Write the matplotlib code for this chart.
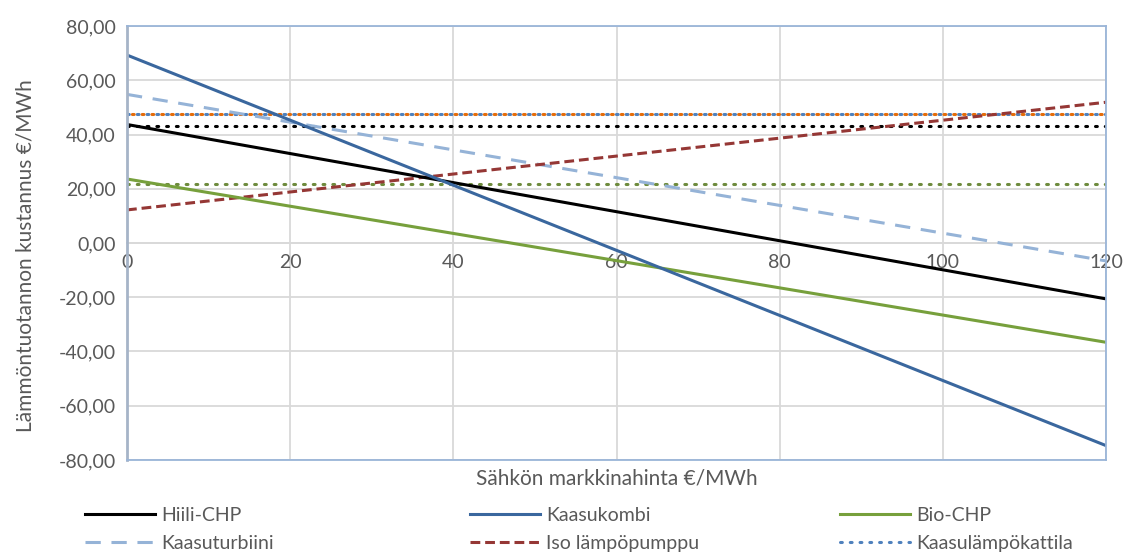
import matplotlib
matplotlib.use("Agg")
import matplotlib.pyplot as plt
import numpy as np

plt.rcParams['font.family'] = ['Lato', 'DejaVu Sans']

x = [0, 120]
hiili = [43.7, -20.6]
kaasukombi = [69.3, -74.7]
bio = [23.6, -36.6]
kaasuturbiini = [54.8, -6.6]
iso_lp = [12.2, 51.9]
kaasulampokattila = [47.7, 47.7]
orange_const = [47.7, 47.7]
black_const = [43.1, 43.1]
olive_const = [21.8, 21.8]

xticks = [0, 20, 40, 60, 80, 100, 120]
yticks = [-80, -60, -40, -20, 0, 20, 40, 60, 80]

fig = plt.figure(figsize=(11.38, 5.54), dpi=100)
ax = fig.add_axes([0.1116, 0.1697, 0.8603, 0.7833])

grid_c = '#d9d9d9'
border_c = '#9ab5d8'
txt_c = '#595959'

ax.set_xlim(0, 120)
ax.set_ylim(-80, 80)
ax.set_xticks(xticks)
ax.set_yticks(yticks)
ax.grid(True, color=grid_c, lw=1.3)
ax.set_axisbelow(True)
for s in ax.spines.values():
    s.set_color(border_c)
    s.set_linewidth(1.3)
ax.spines['left'].set_color('#a6b4c8')
ax.spines['left'].set_linewidth(2)

ax.set_yticklabels([f"{v:.2f}".replace('.', ',') for v in yticks], fontsize=14, color=txt_c)
ax.tick_params(axis='y', length=0, pad=8)
ax.tick_params(axis='x', length=0, labelbottom=False)

sec = ax.secondary_xaxis(0.5)
sec.set_alignment('bottom')
sec.set_xticks(xticks)
sec.set_xticklabels([str(v) for v in xticks], fontsize=14, color=txt_c)
sec.tick_params(length=0, pad=8)
for s in sec.spines.values():
    s.set_color(grid_c)
    s.set_linewidth(1.3)
sec.set_zorder(1.5)

lw = 2.2
dot = (0, (0.6, 2.6))
l_k = ax.plot(x, kaasulampokattila, color='#4f81bd', lw=lw, ls=dot, dash_capstyle='round')[0]
ax.plot(x, orange_const, color='#e46c0a', lw=lw, ls=(1.6, (0.6, 2.6)), dash_capstyle='round')
ax.plot(x, black_const, color='black', lw=lw, ls=dot, dash_capstyle='round')
ax.plot(x, olive_const, color='#6e8b3d', lw=lw, ls=dot, dash_capstyle='round')
l_kt = ax.plot(x, kaasuturbiini, color='#95b3d7', lw=lw, ls=(0, (5, 3.5)))[0]
l_iso = ax.plot(x, iso_lp, color='#953735', lw=lw, ls=(0, (3.2, 1.6)))[0]
l_bio = ax.plot(x, bio, color='#77a03c', lw=lw)[0]
l_h = ax.plot(x, hiili, color='black', lw=lw)[0]
l_kk = ax.plot(x, kaasukombi, color='#3a679e', lw=lw)[0]

ax.set_ylabel('Lämmöntuotannon kustannus €/MWh', fontsize=15, color=txt_c, labelpad=6)
ax.yaxis.set_label_coords(-0.093, 0.47)
ax.set_xlabel('Sähkön markkinahinta €/MWh', fontsize=15, color=txt_c, labelpad=6)

cols = [([l_h, l_kt], ['Hiili-CHP', 'Kaasuturbiini'], 85),
        ([l_kk, l_iso], ['Kaasukombi', 'Iso lämpöpumppu'], 470),
        ([l_bio, l_k], ['Bio-CHP', 'Kaasulämpökattila'], 840)]
W, H = 1138, 554
for hs, ls_, px in cols:
    leg = fig.legend(hs, ls_, loc='upper left', bbox_to_anchor=(px / W, 1 - 507 / H),
                     frameon=False, fontsize=14, handlelength=3.6, handletextpad=0.3,
                     labelspacing=0.55, borderaxespad=0, borderpad=0, labelcolor=txt_c)

fig.savefig('out.png', dpi=100)
